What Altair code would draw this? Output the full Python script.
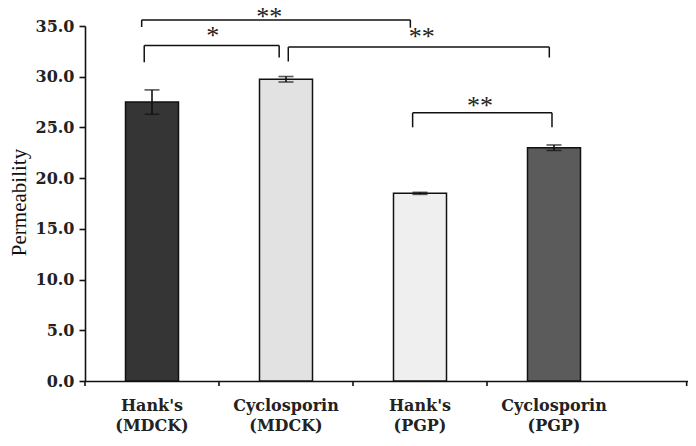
import altair as alt
import pandas as pd

# ---- data ----
categories = ["Hank's (MDCK)", "Cyclosporin (MDCK)", "Hank's (PGP)", "Cyclosporin (PGP)"]
means = [27.5, 29.75, 18.5, 23.0]
sds = [1.2, 0.27, 0.1, 0.27]
colors = ["#353535", "#e2e2e2", "#efefef", "#5b5b5b"]

# brackets in band units (0 = left edge of first category band)
br_x1 = [0.423, 0.442, 1.517, 2.445]
br_x2 = [2.428, 1.449, 3.465, 3.485]
br_y = [35.6, 33.08, 32.92, 26.44]
br_yl = [34.90, 31.43, 31.50, 25.01]
br_yr = [34.83, 31.89, 31.89, 25.01]
star_x = [1.375, 0.953, 2.513, 2.948]
star_y = [36.05, 34.2, 34.1, 27.28]
star_txt = ["**", "*", "**", "**"]

X_END = 4.5
xtick_pos = [0, 1, 2, 3, 4.49]
y_ticks = [0, 5, 10, 15, 20, 25, 30, 35]

df = pd.DataFrame({"cat": categories, "mean": means, "sd": sds, "color": colors})
df["lo"] = df["mean"] - df["sd"]
df["hi"] = df["mean"] + df["sd"]

segs = []
for a, b, y, yl, yr in zip(br_x1, br_x2, br_y, br_yl, br_yr):
    segs.append({"x": a, "x2": b, "y": y, "y2": y})
    segs.append({"x": a, "x2": a, "y": y, "y2": yl})
    segs.append({"x": b, "x2": b, "y": y, "y2": yr})
seg_df = pd.DataFrame(segs)
star_df = pd.DataFrame({"x": star_x, "y": star_y, "t": star_txt})
tick_df = pd.DataFrame({"x": xtick_pos, "y": [0] * len(xtick_pos), "y2": [-0.5] * len(xtick_pos)})

yscale = alt.Scale(domain=[0, 35], nice=False, zero=True)
xband = alt.Scale(domain=categories, paddingInner=0, paddingOuter=(X_END - 4) / 2, align=0)
xq = alt.Scale(domain=[0, X_END], nice=False, zero=False)

serif_b = "DejaVu Serif"

xaxis = alt.Axis(labelExpr="split(datum.label, ' ')", labelAngle=0, title=None,
                 ticks=False, domain=True, labelPadding=29, labelLineHeight=20,
                 labelBaseline="alphabetic")
yaxis = alt.Axis(title="Permeability", values=y_ticks, format=".1f", grid=False,
                 tickSize=6, labelPadding=5)

bars = alt.Chart(df).mark_bar(size=53, stroke="#111111", strokeWidth=1.5).encode(
    x=alt.X("cat:N", scale=xband, sort=categories, title=None, axis=xaxis),
    y=alt.Y("mean:Q", scale=yscale, axis=yaxis, title="Permeability"),
    color=alt.Color("color:N", scale=None),
)

err = alt.Chart(df).mark_rule(color="#111111", strokeWidth=1.6).encode(
    x=alt.X("cat:N", scale=xband, sort=categories, title=None, axis=xaxis),
    y=alt.Y("lo:Q", scale=yscale, axis=yaxis, title="Permeability"),
    y2="hi:Q",
)
caps_hi = alt.Chart(df).mark_tick(color="#111111", size=15, thickness=1.6).encode(
    x=alt.X("cat:N", scale=xband, sort=categories, title=None, axis=xaxis),
    y=alt.Y("hi:Q", scale=yscale, axis=yaxis, title="Permeability"),
)
caps_lo = alt.Chart(df).mark_tick(color="#111111", size=15, thickness=1.6).encode(
    x=alt.X("cat:N", scale=xband, sort=categories, title=None, axis=xaxis),
    y=alt.Y("lo:Q", scale=yscale, axis=yaxis, title="Permeability"),
)

band_layer = alt.layer(bars, err, caps_hi, caps_lo)

brackets = alt.Chart(seg_df).mark_rule(color="#111111", strokeWidth=1.5).encode(
    x=alt.X("x:Q", scale=xq, axis=None),
    x2="x2:Q",
    y=alt.Y("y:Q", scale=yscale, axis=yaxis, title="Permeability"),
    y2="y2:Q",
)
stars = alt.Chart(star_df).mark_text(font="Liberation Serif", fontSize=26, color="#222222",
                                      baseline="middle", dy=2).encode(
    x=alt.X("x:Q", scale=xq, axis=None),
    y=alt.Y("y:Q", scale=yscale, axis=yaxis, title="Permeability"),
    text="t:N",
)
xticks = alt.Chart(tick_df).mark_rule(color="#111111", strokeWidth=1.6).encode(
    x=alt.X("x:Q", scale=xq, axis=None),
    y=alt.Y("y:Q", scale=yscale, axis=yaxis, title="Permeability"),
    y2="y2:Q",
)
q_layer = alt.layer(brackets, stars, xticks)

chart = alt.layer(band_layer, q_layer).resolve_scale(x="independent").properties(
    width=603, height=355,
    autosize=alt.AutoSizeParams(type="none"),
    padding={"left": 77, "top": 18, "right": 0, "bottom": 53},
    background="white",
).configure_view(stroke=None).configure_axis(
    domainColor="#111111", domainWidth=1.6, tickColor="#111111", tickWidth=1.6,
    labelFont=serif_b, labelFontWeight="bold", labelFontSize=16, labelColor="#222222",
).configure_axisY(
    titleFont="Liberation Serif", titleFontWeight="normal", titleFontSize=21,
    titleColor="#111111", titleX=-60, titleY=176, titleAngle=-90,
    titleAlign="center", titleBaseline="alphabetic",
)

chart.save("out.html", embed_options={"renderer": "svg", "actions": False})
